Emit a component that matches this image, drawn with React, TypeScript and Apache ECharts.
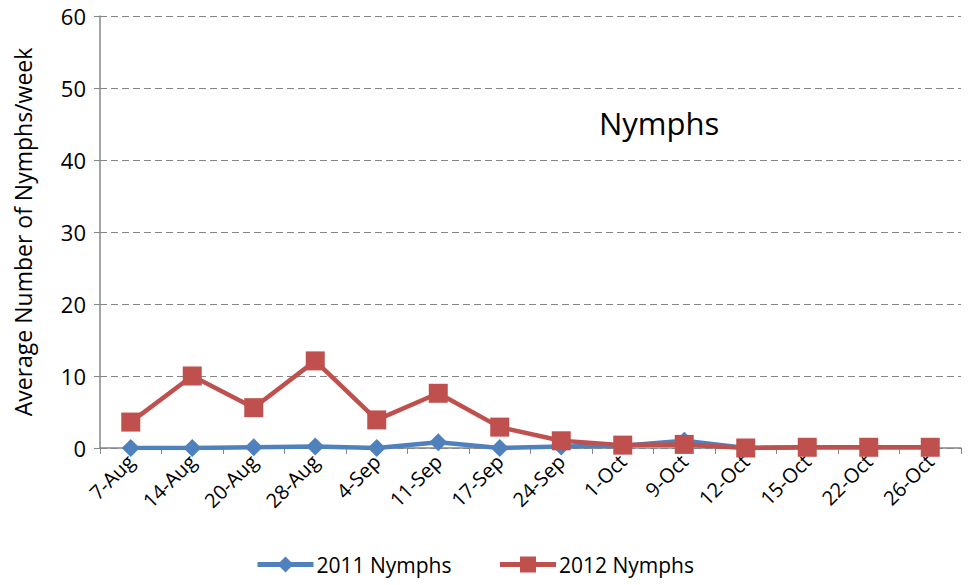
import React, { useEffect, useRef } from "react";
import * as echarts from "echarts";

const categories = ["7-Aug", "14-Aug", "20-Aug", "28-Aug", "4-Sep", "11-Sep", "17-Sep", "24-Sep", "1-Oct", "9-Oct", "12-Oct", "15-Oct", "22-Oct", "26-Oct"];
const nymphs2011 = [0, 0, 0.1, 0.2, 0, 0.8, 0, 0.2, 0.3, 1.0, 0, 0.1, 0.1, 0.1];
const nymphs2012 = [3.6, 10.0, 5.6, 12.1, 3.9, 7.6, 2.9, 1.0, 0.4, 0.5, 0, 0.1, 0.1, 0.1];
const yTicks = { min: 0, max: 60, interval: 10 };

const FONT = "'Open Sans', 'Liberation Sans', sans-serif";

export default function App() {
  const ref = useRef<HTMLDivElement>(null);
  useEffect(() => {
    const chart = echarts.init(ref.current!, undefined, { renderer: "svg" });
    chart.setOption({
      animation: false,
      textStyle: { fontFamily: FONT },
      title: {
        text: "Nymphs",
        left: 594,
        top: 102,
        textStyle: { fontSize: 31, fontWeight: "normal", color: "#000", fontFamily: FONT },
      },
      grid: { left: 100, top: 16, right: 8, bottom: 137 },
      legend: {
        top: 549,
        left: 250,
        itemGap: 46,
        itemWidth: 56,
        itemHeight: 20,
        lineStyle: { width: 5 },
        textStyle: { fontSize: 21, color: "#000", fontFamily: FONT, padding: [0, 0, 0, -2] },
        data: ["2011 Nymphs", "2012 Nymphs"],
      },
      xAxis: {
        type: "category",
        data: categories,
        boundaryGap: true,
        axisLine: { lineStyle: { color: "#868686", width: 1.5 } },
        axisTick: { show: true, length: 6, lineStyle: { color: "#868686" } },
        axisLabel: { rotate: 45, fontSize: 20, color: "#000", margin: 10, interval: 0, fontFamily: FONT },
      },
      yAxis: {
        type: "value",
        min: yTicks.min,
        max: yTicks.max,
        interval: yTicks.interval,
        name: "Average Number of Nymphs/week",
        nameLocation: "middle",
        nameGap: 66,
        nameTextStyle: { fontSize: 23, color: "#000", fontFamily: FONT },
        axisLine: { show: true, lineStyle: { color: "#868686", width: 1.5 } },
        axisTick: { show: true, length: 6, lineStyle: { color: "#868686" } },
        axisLabel: { fontSize: 22, color: "#000", margin: 14, fontFamily: FONT },
        splitLine: { lineStyle: { color: "#868686", type: [7, 4], width: 1 } },
      },
      series: [
        {
          name: "2011 Nymphs",
          type: "line",
          data: nymphs2011,
          symbol: "diamond",
          symbolSize: 18,
          lineStyle: { color: "#4F81BD", width: 4.5 },
          itemStyle: { color: "#4F81BD" },
        },
        {
          name: "2012 Nymphs",
          type: "line",
          data: nymphs2012,
          symbol: "rect",
          symbolSize: 19,
          lineStyle: { color: "#C0504D", width: 4.5 },
          itemStyle: { color: "#C0504D" },
        },
      ],
    });
    return () => chart.dispose();
  }, []);
  return <div ref={ref} style={{ width: 969, height: 585, position: "absolute", left: 0, top: 0 }} />;
}
